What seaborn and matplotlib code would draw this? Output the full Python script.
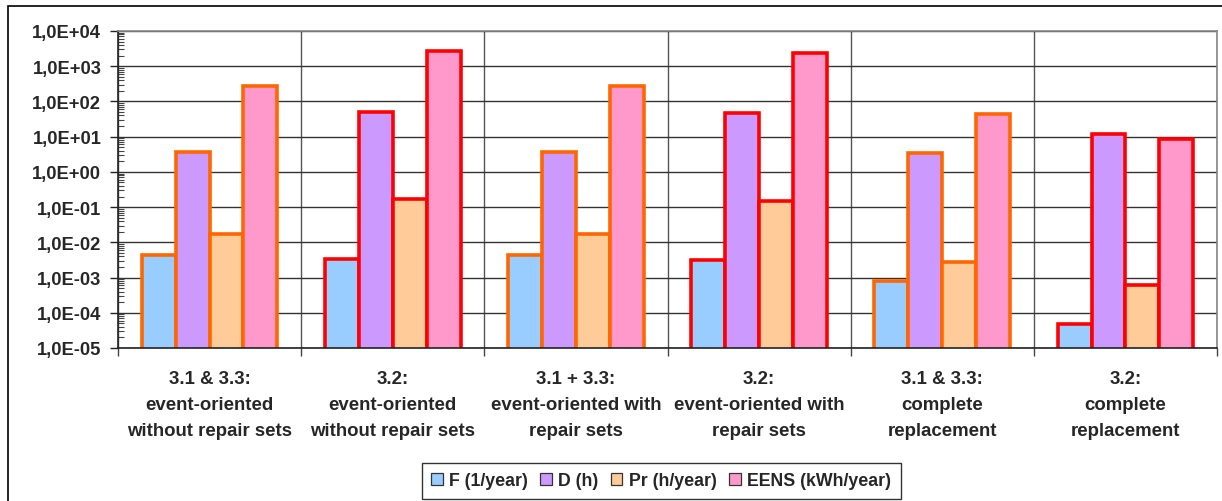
import numpy as np
import pandas as pd
import matplotlib
matplotlib.use("Agg")
import matplotlib.pyplot as plt
import matplotlib.ticker as mticker
from matplotlib.patches import Rectangle
import seaborn as sns

categories = [
    "3.1 & 3.3:\nevent-oriented\nwithout repair sets",
    "3.2:\nevent-oriented\nwithout repair sets",
    "3.1 + 3.3:\nevent-oriented with\nrepair sets",
    "3.2:\nevent-oriented with\nrepair sets",
    "3.1 & 3.3:\ncomplete\nreplacement",
    "3.2:\ncomplete\nreplacement",
]
series_names = ["F (1/year)", "D (h)", "Pr (h/year)", "EENS (kWh/year)"]
F_vals = [4.4e-3, 3.3e-3, 4.4e-3, 3.1e-3, 8.1e-4, 4.8e-5]
D_vals = [3.7, 49.0, 3.7, 46.0, 3.5, 12.0]
Pr_vals = [0.017, 0.17, 0.017, 0.15, 2.8e-3, 6.0e-4]
EENS_vals = [275.0, 2650.0, 275.0, 2330.0, 44.0, 8.5]

fill_colors = ["#99CCFF", "#CC99FF", "#FFCC99", "#FF99CC"]
edge_colors = ["#FF6600", "#FF0000"]

rows = []
for name, vals in zip(series_names, [F_vals, D_vals, Pr_vals, EENS_vals]):
    for c, v in zip(categories, vals):
        rows.append({"scenario": c, "metric": name, "value": v})
df = pd.DataFrame(rows)

sns.set_theme(style="white")
plt.rcParams["font.family"] = ["Liberation Sans", "DejaVu Sans"]
plt.rcParams["font.weight"] = "bold"

fig = plt.figure(figsize=(12.22, 5.02), dpi=100)
ax = fig.add_axes([118 / 1222, 1 - 349 / 502, (1217 - 118) / 1222, (349 - 32) / 502])

sns.barplot(data=df, x="scenario", y="value", hue="metric", order=categories,
            hue_order=series_names, palette=fill_colors, width=0.74, gap=0,
            ax=ax, legend=True, saturation=1)
ax.set_yscale("log", nonpositive="clip")

for cont in ax.containers:
    for i, bar in enumerate(cont):
        bar.set_edgecolor(edge_colors[i % 2])
        bar.set_linewidth(2.6)
        bar.set_joinstyle("miter")

ax.set_ylim(1e-5, 1e4)
ax.set_xlim(-0.5, len(categories) - 0.5)
ax.yaxis.set_major_locator(mticker.LogLocator(base=10, numticks=20))
ax.yaxis.set_minor_locator(mticker.LogLocator(base=10, subs=np.arange(2, 10), numticks=20))
ax.yaxis.set_minor_formatter(mticker.NullFormatter())

def fmt(v, pos):
    e = int(round(np.log10(v)))
    return f"1,0E{e:+03d}"

ax.yaxis.set_major_formatter(mticker.FuncFormatter(fmt))
ax.tick_params(axis="y", which="major", direction="out", length=6, width=1, color="#222222",
               labelsize=13.2, pad=6, left=True)
ax.tick_params(axis="y", which="minor", direction="in", length=4, width=0.8, color="#444444", left=True)
for lab in ax.get_yticklabels():
    lab.set_fontweight("bold")

ax.set_xticks(range(len(categories)))
ax.set_xticklabels(categories, fontsize=13.4, fontweight="bold", linespacing=1.69)
ax.set_xticks(np.arange(-0.5, len(categories)), minor=True)
ax.tick_params(axis="x", which="major", length=0, pad=16)
ax.tick_params(axis="x", which="minor", direction="out", length=6, width=1, color="#444444", bottom=True)

ax.grid(True, axis="y", which="major", color="#333333", linewidth=1)
ax.grid(True, axis="x", which="minor", color="#555555", linewidth=1)
ax.set_axisbelow(True)
ax.set_xlabel("")
ax.set_ylabel("")

for s in ["top", "right"]:
    ax.spines[s].set_color("#888888")
    ax.spines[s].set_linewidth(1.2)
for s in ["left", "bottom"]:
    ax.spines[s].set_color("#222222")
    ax.spines[s].set_linewidth(1.2)

handles, labels = ax.get_legend_handles_labels()
ax.legend_.remove()
leg = fig.legend(handles, labels, loc="center", bbox_to_anchor=(661 / 1222, 1 - 482 / 502),
                 ncol=4, frameon=True, fancybox=False, edgecolor="black",
                 handlelength=0.65, handleheight=0.65, handletextpad=0.35, columnspacing=0.7,
                 borderpad=0.55, borderaxespad=0, prop={"weight": "bold", "size": 12.8})
leg.get_frame().set_linewidth(1.0)
for h in leg.legend_handles:
    h.set_edgecolor("#333333")
    h.set_linewidth(0.9)

fig.patches.append(Rectangle((8 / 1222, -0.05), 1.2, 1 - 7 / 502 + 0.05, transform=fig.transFigure,
                             fill=False, edgecolor="black", linewidth=1.2, zorder=0))

fig.savefig("out.png", dpi=100)
